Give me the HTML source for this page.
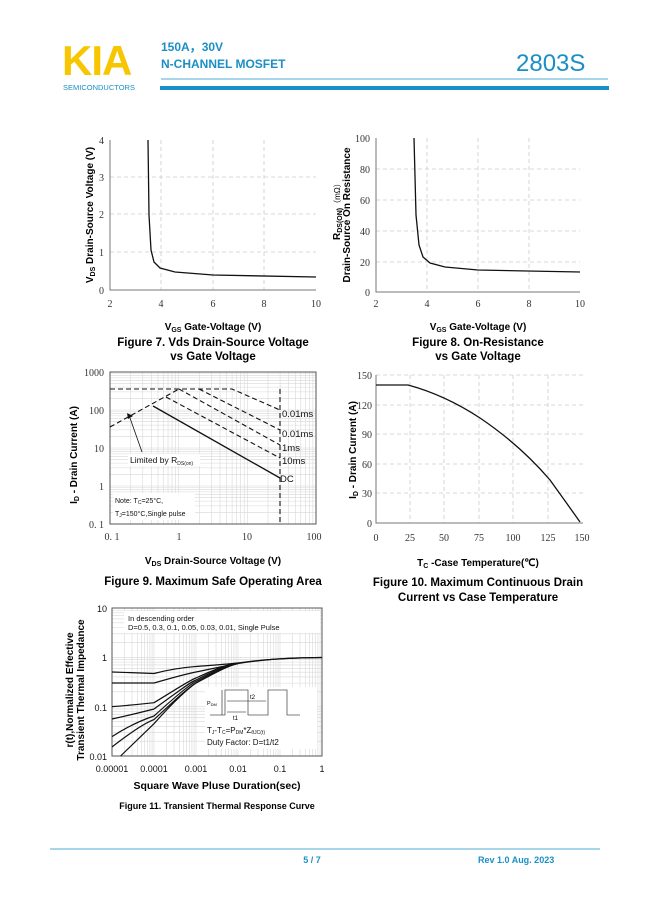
<!DOCTYPE html>
<html><head><meta charset="utf-8"><style>
body{margin:0;background:#fff;}
svg{display:block;font-family:"Liberation Sans",sans-serif;}
.t{font-family:"Liberation Serif",serif;font-size:10px;fill:#333}
</style></head><body>
<svg width="649" height="917" viewBox="0 0 649 917" xmlns="http://www.w3.org/2000/svg">
<!-- header -->
<text x="62" y="75" font-size="42" font-weight="bold" fill="#f7c600" letter-spacing="-1">KIA</text>
<text x="63" y="90" font-size="7.5" fill="#1a8fc6">SEMICONDUCTORS</text>
<text x="161" y="51" font-size="12" font-weight="bold" fill="#1a8fc6">150A，30V</text>
<text x="161" y="68" font-size="12" font-weight="bold" fill="#1a8fc6">N-CHANNEL MOSFET</text>
<text x="516" y="71" font-size="24" fill="#1a8fc6">2803S</text>
<line x1="161" y1="79" x2="608" y2="79" stroke="#1a8fc6" stroke-width="0.7"/>
<rect x="160" y="86" width="449" height="4" fill="#1a8fc6"/>

<!-- Fig 7 -->
<g stroke="#ccc" stroke-dasharray="4,3" stroke-width="0.8">
<line x1="161" y1="140" x2="161" y2="290"/><line x1="213" y1="140" x2="213" y2="290"/><line x1="264" y1="140" x2="264" y2="290"/>
<line x1="110" y1="177" x2="316" y2="177"/><line x1="110" y1="214" x2="316" y2="214"/><line x1="110" y1="252" x2="316" y2="252"/>
</g>
<path d="M110 140V290H316" fill="none" stroke="#777"/>
<path d="M148 140 L149 215 L151 250 L154 262 L160 268 L175 272 L213 275 L316 277" fill="none" stroke="#111" stroke-width="1.3"/>
<g class="t" text-anchor="end"><text x="104" y="144">4</text><text x="104" y="181">3</text><text x="104" y="218">2</text><text x="104" y="256">1</text><text x="104" y="294">0</text></g>
<g class="t" text-anchor="middle"><text x="110" y="307">2</text><text x="161" y="307">4</text><text x="213" y="307">6</text><text x="264" y="307">8</text><text x="316" y="307">10</text></g>
<text transform="translate(93,215) rotate(-90)" text-anchor="middle" font-size="10" font-weight="bold">V<tspan font-size="7" dy="2">DS</tspan><tspan dy="-2"> Drain-Source Voltage (V)</tspan></text>
<text x="213" y="330" text-anchor="middle" font-size="10" font-weight="bold">V<tspan font-size="7" dy="2">GS</tspan><tspan dy="-2"> Gate-Voltage (V)</tspan></text>
<text x="213" y="346" text-anchor="middle" font-size="11.5" font-weight="bold">Figure 7.   Vds Drain-Source Voltage</text>
<text x="213" y="360" text-anchor="middle" font-size="11.5" font-weight="bold">vs Gate Voltage</text>

<!-- Fig 8 -->
<g stroke="#ccc" stroke-dasharray="4,3" stroke-width="0.8">
<line x1="427" y1="138" x2="427" y2="292"/><line x1="478" y1="138" x2="478" y2="292"/><line x1="529" y1="138" x2="529" y2="292"/>
<line x1="376" y1="169" x2="580" y2="169"/><line x1="376" y1="200" x2="580" y2="200"/><line x1="376" y1="231" x2="580" y2="231"/><line x1="376" y1="262" x2="580" y2="262"/>
</g>
<path d="M376 138V292H580" fill="none" stroke="#777"/>
<path d="M414 138 L416 215 L419 245 L423 257 L430 263 L445 267 L478 270 L580 272" fill="none" stroke="#111" stroke-width="1.3"/>
<g class="t" text-anchor="end"><text x="370" y="142">100</text><text x="370" y="173">80</text><text x="370" y="204">60</text><text x="370" y="235">40</text><text x="370" y="266">20</text><text x="370" y="296">0</text></g>
<g class="t" text-anchor="middle"><text x="376" y="307">2</text><text x="427" y="307">4</text><text x="478" y="307">6</text><text x="529" y="307">8</text><text x="580" y="307">10</text></g>
<text transform="translate(340,240) rotate(-90)" font-size="10" font-weight="bold">R<tspan font-size="7" dy="2">DS(ON)</tspan><tspan dy="-2" font-size="8" font-weight="normal">（mΩ）</tspan></text>
<text transform="translate(350,215) rotate(-90)" text-anchor="middle" font-size="10" font-weight="bold">Drain-Source On Resistance</text>
<text x="478" y="330" text-anchor="middle" font-size="10" font-weight="bold">V<tspan font-size="7" dy="2">GS</tspan><tspan dy="-2"> Gate-Voltage (V)</tspan></text>
<text x="478" y="346" text-anchor="middle" font-size="11.5" font-weight="bold">Figure 8. On-Resistance</text>
<text x="478" y="360" text-anchor="middle" font-size="11.5" font-weight="bold">vs Gate Voltage</text>

<!-- Fig 9 -->
<g id="g9" stroke="#d8d8d8" stroke-width="0.6"></g>
<rect x="110" y="372" width="206" height="152" fill="none" stroke="#555"/>
<g stroke="#111" stroke-width="1.1" fill="none" stroke-dasharray="5,3">
<path d="M110 389H232L280 410"/>
<path d="M199 389L280 430"/>
<path d="M179 389L280 445"/>
<path d="M166 397L280 458"/>
<path d="M110 427L179 389"/>
<path d="M280 389V524"/>
</g>
<path d="M153 406L280 478" stroke="#111" stroke-width="1.3" fill="none"/>
<path d="M142 452L130 418" stroke="#111" stroke-width="0.8"/>
<path d="M127 413l6 3-5 3z" fill="#111"/>
<g font-size="9.5" fill="#111"><text x="282" y="417">0.01ms</text><text x="282" y="437">0.01ms</text><text x="282" y="451">1ms</text><text x="282" y="464">10ms</text><text x="280" y="482">DC</text></g>
<rect x="128" y="454" width="72" height="12" fill="#fff"/>
<text x="130" y="463" font-size="8.5" fill="#111">Limited by R<tspan font-size="5" dy="2">DS(on)</tspan></text>
<rect x="113" y="493" width="82" height="27" fill="#fff"/>
<text x="115" y="503" font-size="7" fill="#111">Note: T<tspan font-size="5" dy="1">C</tspan><tspan dy="-1">=25°C,</tspan></text>
<text x="115" y="516" font-size="7" fill="#111">T<tspan font-size="5" dy="1">J</tspan><tspan dy="-1">=150°C,Single pulse</tspan></text>
<g class="t" text-anchor="end"><text x="104" y="376">1000</text><text x="104" y="414">100</text><text x="104" y="452">10</text><text x="104" y="490">1</text><text x="104" y="528">0. 1</text></g>
<g class="t" text-anchor="middle"><text x="112" y="540">0. 1</text><text x="179" y="540">1</text><text x="247" y="540">10</text><text x="314" y="540">100</text></g>
<text transform="translate(77,455) rotate(-90)" text-anchor="middle" font-size="10" font-weight="bold">I<tspan font-size="7" dy="2">D</tspan><tspan dy="-2"> - Drain Current (A)</tspan></text>
<text x="213" y="564" text-anchor="middle" font-size="10" font-weight="bold">V<tspan font-size="7" dy="2">DS</tspan><tspan dy="-2"> Drain-Source Voltage (V)</tspan></text>
<text x="213" y="585" text-anchor="middle" font-size="11.5" font-weight="bold">Figure 9. Maximum Safe Operating Area</text>

<!-- Fig 10 -->
<g stroke="#ccc" stroke-dasharray="4,3" stroke-width="0.8">
<line x1="410" y1="375" x2="410" y2="523"/><line x1="444" y1="375" x2="444" y2="523"/><line x1="479" y1="375" x2="479" y2="523"/><line x1="513" y1="375" x2="513" y2="523"/><line x1="548" y1="375" x2="548" y2="523"/>
<line x1="376" y1="375" x2="583" y2="375"/><line x1="376" y1="405" x2="583" y2="405"/><line x1="376" y1="434" x2="583" y2="434"/><line x1="376" y1="464" x2="583" y2="464"/><line x1="376" y1="493" x2="583" y2="493"/>
</g>
<path d="M376 375V523H583" fill="none" stroke="#777"/>
<path d="M376 385 L408 385 Q445 395 480 418 Q520 445 550 480 Q568 505 580 522" fill="none" stroke="#111" stroke-width="1.3"/>
<g class="t" text-anchor="end"><text x="372" y="379">150</text><text x="372" y="409">120</text><text x="372" y="438">90</text><text x="372" y="468">60</text><text x="372" y="497">30</text><text x="372" y="527">0</text></g>
<g class="t" text-anchor="middle"><text x="376" y="541">0</text><text x="410" y="541">25</text><text x="444" y="541">50</text><text x="479" y="541">75</text><text x="513" y="541">100</text><text x="548" y="541">125</text><text x="582" y="541">150</text></g>
<text transform="translate(356,450) rotate(-90)" text-anchor="middle" font-size="10" font-weight="bold">I<tspan font-size="7" dy="2">D</tspan><tspan dy="-2"> - Drain Current (A)</tspan></text>
<text x="478" y="566" text-anchor="middle" font-size="10" font-weight="bold">T<tspan font-size="7" dy="2">C</tspan><tspan dy="-2"> -Case Temperature(℃)</tspan></text>
<text x="478" y="586" text-anchor="middle" font-size="11.5" font-weight="bold">Figure 10. Maximum  Continuous Drain</text>
<text x="478" y="601" text-anchor="middle" font-size="11.5" font-weight="bold">Current vs Case Temperature</text>

<!-- Fig 11 -->
<g id="g11" stroke="#d8d8d8" stroke-width="0.6"></g>
<rect x="112" y="608" width="210" height="148" fill="none" stroke="#555"/>
<g fill="none" stroke="#111" stroke-width="1.2">
<path d="M112 672 L154 673.5 C175 668 190 667 196 666.5 C215 665 230 664 238 663 C260 660 280 658 322 657.5"/>
<path d="M112 683 L154 683 C175 677 190 673 196 672 C220 667 230 665 238 663.5"/>
<path d="M112 706.6 C135 705 150 703 154 702.7 C175 690 190 680 196 678 C220 667 230 664 238 663"/>
<path d="M112 719 C135 714 150 710 154 709 C175 694 190 682 196 680 C220 668 230 664 238 663.5"/>
<path d="M112 736.6 C130 725 145 719 154 716 C175 697 190 684 196 681.5 C220 669 230 665 238 663.5"/>
<path d="M112 747 C130 733 145 723 154 719.6 C175 700 190 686 196 683 C220 670 230 665 238 663.5"/>
<path d="M120.6 756 L154 723.7 C175 700 190 687 196 683 C220 670 230 665 238 663.5 C260 660 280 658 322 657.5"/>
</g>
<rect x="124" y="611" width="196" height="22" fill="#fff"/>
<text x="128" y="621" font-size="7.5" fill="#111">In descending order</text>
<text x="128" y="630" font-size="7.5" fill="#111">D=0.5,  0.3,  0.1,  0.05,  0.03,  0.01,  Single Pulse</text>
<rect x="205" y="687" width="112" height="62" fill="#fff"/>
<g stroke="#555" fill="none" stroke-width="0.8"><path d="M210 715H225V690H248V715H268V690H287V715H300"/></g>
<g stroke="#111" stroke-width="0.6"><line x1="222" y1="690" x2="222" y2="715"/><line x1="227" y1="701" x2="266" y2="701"/><line x1="227" y1="712" x2="246" y2="712"/></g>
<text x="207" y="705" font-size="5.5">P<tspan font-size="4" dy="1">DM</tspan></text>
<text x="250" y="699" font-size="6">t2</text><text x="233" y="720" font-size="6">t1</text>
<text x="207" y="733" font-size="8" fill="#111">T<tspan font-size="5" dy="1">J</tspan><tspan dy="-1">-T</tspan><tspan font-size="5" dy="1">C</tspan><tspan dy="-1">=P</tspan><tspan font-size="5" dy="1">DM</tspan><tspan dy="-1">*Z</tspan><tspan font-size="5" dy="1">θJC(t)</tspan></text>
<text x="207" y="745" font-size="8" fill="#111">Duty Factor: D=t1/t2</text>
<g font-size="9" fill="#111" text-anchor="end"><text x="107" y="612">10</text><text x="107" y="661">1</text><text x="107" y="711">0.1</text><text x="107" y="760">0.01</text></g>
<g font-size="9" fill="#111" text-anchor="middle"><text x="112" y="772">0.00001</text><text x="154" y="772">0.0001</text><text x="196" y="772">0.001</text><text x="238" y="772">0.01</text><text x="280" y="772">0.1</text><text x="322" y="772">1</text></g>
<text transform="translate(73,690) rotate(-90)" text-anchor="middle" font-size="10" font-weight="bold">r(t),Normalized Effective</text>
<text transform="translate(84,690) rotate(-90)" text-anchor="middle" font-size="10" font-weight="bold">Transient Thermal Impedance</text>
<text x="217" y="789" text-anchor="middle" font-size="10.5" font-weight="bold">Square Wave Pluse Duration(sec)</text>
<text x="217" y="809" text-anchor="middle" font-size="9" font-weight="bold">Figure 11. Transient Thermal Response Curve</text>

<!-- footer -->
<line x1="50" y1="849" x2="600" y2="849" stroke="#1a8fc6" stroke-width="0.7"/>
<text x="312" y="863" text-anchor="middle" font-size="9" font-weight="bold" fill="#1a8fc6">5 / 7</text>
<text x="478" y="863" font-size="9" font-weight="bold" fill="#1a8fc6">Rev 1.0 Aug. 2023</text>
</svg>
<script>
function grid(id,x0,x1,y0,y1,nx,ny){var g=document.getElementById(id),s='';var dx=(x1-x0)/nx,dy=(y1-y0)/ny;
for(var d=0;d<nx;d++)for(var k=2;k<=10;k++){var x=x0+dx*(d+Math.log10(k));s+='<line x1="'+x+'" y1="'+y0+'" x2="'+x+'" y2="'+y1+'"/>';}
for(var d=0;d<ny;d++)for(var k=2;k<=10;k++){var y=y1-dy*(d+Math.log10(k));s+='<line x1="'+x0+'" y1="'+y+'" x2="'+x1+'" y2="'+y+'"/>';}
g.innerHTML=s;}
grid('g9',110,316,372,524,3,4);grid('g11',112,322,608,756,5,3);
</script>
</body></html>
